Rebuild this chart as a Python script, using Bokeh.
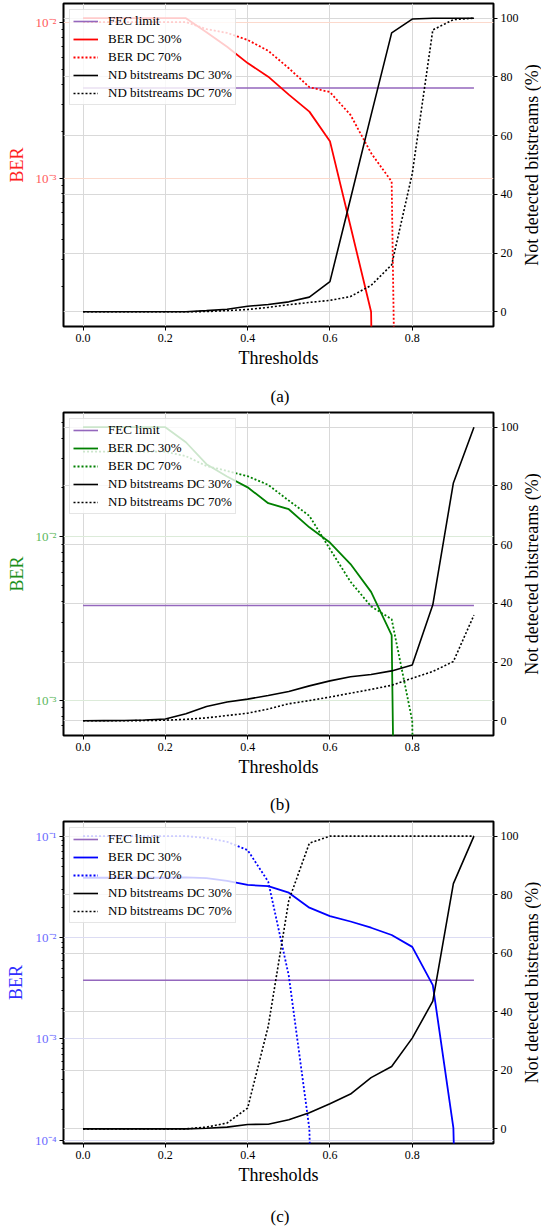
import math
from bokeh.plotting import figure
from bokeh.models import (Range1d, LinearScale, LinearAxis, FixedTicker, Grid,
                          CustomJSTickFormatter, NumeralTickFormatter, Label)
from bokeh.layouts import column, row
from bokeh.embed import file_html
from bokeh.resources import INLINE

# ---------------- data ----------------
thresholds = [0.00, 0.05, 0.10, 0.15, 0.20, 0.25, 0.30, 0.35, 0.40, 0.45,
              0.50, 0.55, 0.60, 0.65, 0.70, 0.75, 0.80, 0.85, 0.90, 0.95]
fec_limit = 3.8e-3
x_ticks = [0.0, 0.2, 0.4, 0.6, 0.8]
pct_ticks = [0, 20, 40, 60, 80, 100]
legend_labels = ["FEC limit", "BER DC 30%", "BER DC 70%",
                 "ND bitstreams DC 30%", "ND bitstreams DC 70%"]
captions = ["(a)", "(b)", "(c)"]
x_label = "Thresholds"
left_label = "BER"
right_label = "Not detected bitstreams (%)"

# panel (a)
ber30_a = [1.07e-2, 1.07e-2, 1.07e-2, 1.07e-2, 1.07e-2, 1.07e-2, 8.7e-3, 7.0e-3, 5.5e-3, 4.5e-3,
           3.45e-3, 2.68e-3, 1.73e-3, 4.9e-4, 1.38e-4, 0.0, 0.0, 0.0, 0.0, 0.0]
ber70_a = [1.01e-2, 1.01e-2, 1.01e-2, 1.01e-2, 1.01e-2, 1.01e-2, 9.1e-3, 8.6e-3, 7.75e-3, 6.6e-3,
           5.1e-3, 3.85e-3, 3.58e-3, 2.55e-3, 1.45e-3, 9.5e-4, 0.0, 0.0, 0.0, 0.0]
nd30_a = [0, 0, 0, 0, 0, 0, 0.4, 0.9, 1.9, 2.5,
          3.4, 5.0, 10.3, 38.5, 67.0, 95.0, 99.7, 100, 100, 100]
nd70_a = [0, 0, 0, 0, 0, 0, 0.1, 0.4, 0.8, 1.5,
          2.4, 3.2, 3.9, 5.2, 9.0, 16.0, 47.0, 96.0, 99.5, 100]

# panel (b)
ber30_b = [0.0466, 0.0466, 0.0466, 0.0466, 0.0466, 0.0377, 0.0277, 0.0233, 0.0200, 0.0160,
           0.0147, 0.0114, 9.2e-3, 6.8e-3, 4.6e-3, 2.5e-3, 0.0, 0.0, 0.0, 0.0]
ber70_b = [0.033, 0.033, 0.033, 0.033, 0.033, 0.031, 0.027, 0.0252, 0.0234, 0.0207,
           0.0166, 0.0134, 8.4e-3, 5.3e-3, 3.75e-3, 3.13e-3, 7.5e-4, 0.0, 0.0, 0.0]
nd30_b = [0, 0.05, 0.1, 0.3, 0.6, 2.4, 4.9, 6.4, 7.4, 8.6,
          10.0, 11.9, 13.6, 15.0, 15.8, 17.0, 19.0, 39.5, 81.0, 100]
nd70_b = [0, 0, 0, 0.1, 0.2, 0.5, 1.0, 1.8, 2.6, 4.0,
          5.8, 6.9, 8.1, 9.4, 10.7, 12.1, 14.5, 16.8, 20.2, 36.0]

# panel (c)
ber30_c = [0.0389, 0.0389, 0.0389, 0.0389, 0.0389, 0.0392, 0.0385, 0.0362, 0.0330, 0.0322,
           0.0277, 0.0197, 0.0163, 0.0144, 0.0125, 0.0106, 8.1e-3, 3.4e-3, 1.33e-4, 0.0]
ber70_c = [0.1, 0.1, 0.1, 0.1, 0.1, 0.1, 0.096, 0.088, 0.0728, 0.0356,
           4.2e-3, 1.3e-4, 0.0, 0.0, 0.0, 0.0, 0.0, 0.0, 0.0, 0.0]
nd30_c = [0, 0, 0, 0, 0, 0, 0.2, 0.6, 1.5, 1.6,
          3.1, 5.5, 8.6, 11.9, 17.5, 21.3, 31.0, 43.6, 83.8, 100]
nd70_c = [0, 0, 0, 0, 0, 0, 0.6, 2.0, 7.1, 35.0,
          78.0, 97.6, 100, 100, 100, 100, 100, 100, 100, 100]

FONT = "Liberation Serif"
CLIP = 1e-12  # non-positive values clipped like a log axis does

# layout constants (pixels)
W_TOTAL = 541
W_LABEL = 20
W_MAIN = W_TOTAL - W_LABEL
B_LEFT, B_RIGHT, B_TOP, B_BOTTOM = 63, 25, 3, 46


def clip(vals):
    return [v if v > 0 else CLIP for v in vals]


def blank_fig(width, height, xr, yr, top=0, bottom=0):
    f = figure(width=width, height=height, x_range=xr, y_range=yr,
               x_axis_location=None, y_axis_location=None,
               output_backend="svg", toolbar_location=None,
               min_border_left=0, min_border_right=0,
               min_border_top=top, min_border_bottom=bottom,
               background_fill_color="white", border_fill_color="white",
               outline_line_color=None)
    f.grid.visible = False
    return f


def make_panel(ber30, ber70, nd30, nd70, color, tick_color, label_color,
               grid_color, caption, frame_h, cap_h, cap_y):
    xs = thresholds
    xspan = max(xs) - min(xs)
    x0, x1 = min(xs) - 0.05 * xspan, max(xs) + 0.05 * xspan
    pos = [v for v in ber30 + ber70 + [fec_limit] if v > 0]
    lo, hi = math.log10(min(pos)), math.log10(max(pos))
    span = hi - lo
    y0, y1 = 10 ** (lo - 0.05 * span), 10 ** (hi + 0.05 * span)
    pmin, pmax = min(nd30 + nd70), max(nd30 + nd70)
    pspan = pmax - pmin

    main_h = B_TOP + frame_h + B_BOTTOM
    p = figure(width=W_MAIN, height=main_h, x_range=Range1d(x0, x1),
               y_range=Range1d(y0, y1), y_axis_type="log",
               output_backend="svg", toolbar_location=None,
               min_border_left=B_LEFT, min_border_right=B_RIGHT,
               min_border_top=B_TOP, min_border_bottom=B_BOTTOM,
               background_fill_color="white", border_fill_color="white")
    p.extra_y_ranges = {"pct": Range1d(pmin - 0.05 * pspan, pmax + 0.05 * pspan)}
    p.extra_y_scales = {"pct": LinearScale()}
    p.outline_line_color = "black"
    p.outline_line_width = 2
    p.outline_line_alpha = 1.0

    xa = p.xaxis[0]
    xa.ticker = FixedTicker(ticks=x_ticks)
    xa.formatter = NumeralTickFormatter(format="0.0")
    xa.axis_label = x_label
    majors = [10.0 ** e for e in range(-6, 1)]
    minors = [k * 10.0 ** e for e in range(-6, 0) for k in range(2, 10)]
    ya = p.yaxis[0]
    ya.ticker = FixedTicker(ticks=majors, minor_ticks=minors)
    ya.formatter = CustomJSTickFormatter(code="""
        const e = Math.round(Math.log10(tick));
        const m = {"-": "\\u207b", "0": "\\u2070", "1": "\\u00b9", "2": "\\u00b2",
                   "3": "\\u00b3", "4": "\\u2074", "5": "\\u2075", "6": "\\u2076"};
        return "10" + String(e).split("").map(c => m[c]).join("");
    """)
    ya.axis_label = left_label
    ra = LinearAxis(y_range_name="pct", ticker=FixedTicker(ticks=pct_ticks))
    p.add_layout(ra, "right")

    for ax in (xa, ya, ra):
        ax.axis_line_color = None
        ax.major_tick_line_color = "black"
        ax.major_tick_out = 4
        ax.major_tick_in = 0
        ax.minor_tick_line_color = None
        ax.major_label_text_font = FONT
        ax.major_label_text_font_size = "12px"
        ax.major_label_text_color = "black"
        ax.axis_label_text_font = FONT
        ax.axis_label_text_font_style = "normal"
        ax.axis_label_text_color = "black"
        ax.major_label_standoff = 3
    xa.axis_label_standoff = 3
    xa.axis_label_text_font_size = "18px"
    ya.axis_label_text_font_size = "18px"
    ya.axis_label_standoff = 6
    ya.major_label_text_font_size = "13px"
    ya.minor_tick_line_color = "black"
    ya.minor_tick_out = 2
    ya.minor_tick_in = 0
    ya.major_label_text_color = tick_color
    ya.axis_label_text_color = label_color

    p.xgrid.ticker = FixedTicker(ticks=x_ticks)
    p.xgrid.grid_line_color = "#d9d9d9"
    p.xgrid.grid_line_width = 1
    p.ygrid.ticker = FixedTicker(ticks=majors)
    p.ygrid.grid_line_color = grid_color
    p.ygrid.grid_line_width = 1
    g = Grid(dimension=1, ticker=FixedTicker(ticks=pct_ticks), y_range_name="pct",
             grid_line_color="#d9d9d9", grid_line_width=1)
    p.add_layout(g)

    fec_line = [fec_limit for _ in thresholds]
    p.line(thresholds, fec_line, color="#9467bd", line_width=1.6,
           legend_label=legend_labels[0])
    p.line(thresholds, clip(ber30), color=color, line_width=1.8,
           legend_label=legend_labels[1])
    p.line(thresholds, clip(ber70), color=color, line_width=1.8, line_dash="2 2",
           legend_label=legend_labels[2])
    p.line(thresholds, nd30, color="black", line_width=1.6, y_range_name="pct",
           legend_label=legend_labels[3])
    p.line(thresholds, nd70, color="black", line_width=1.6, line_dash="2 2",
           y_range_name="pct", legend_label=legend_labels[4])

    lg = p.legend[0]
    lg.location = "top_left"
    lg.margin = 6
    lg.padding = 3
    lg.spacing = 2
    lg.label_height = 16
    lg.glyph_height = 16
    lg.glyph_width = 25
    lg.label_standoff = 10
    lg.label_text_font = FONT
    lg.label_text_font_size = "13px"
    lg.label_text_color = "black"
    lg.background_fill_alpha = 0.8
    lg.border_line_color = "#cccccc"
    lg.border_line_width = 1

    # right-hand axis title (reads bottom to top), in a narrow strip
    lf = blank_fig(W_LABEL, main_h, Range1d(0, 1), Range1d(0, 1),
                   top=B_TOP, bottom=B_BOTTOM)
    lf.add_layout(Label(x=0.5, y=0.5, text=right_label, angle=math.pi / 2,
                        text_align="center", text_baseline="middle",
                        text_font=FONT, text_font_size="18px", text_color="black"))

    # caption strip
    cf = blank_fig(W_TOTAL, cap_h, Range1d(0, W_TOTAL), Range1d(0, cap_h))
    cf.add_layout(Label(x=B_LEFT + (W_MAIN - B_LEFT - B_RIGHT) / 2, y=cap_y,
                        text=caption, text_align="center", text_baseline="middle",
                        text_font=FONT, text_font_size="17px", text_color="black"))
    return column(row(p, lf, spacing=0), cf, spacing=0)


pa = make_panel(ber30_a, ber70_a, nd30_a, nd70_a, "red", "#ff5a5a", "#ff2020",
                "#fcd9cc", captions[0], 323, 37, 13)
pb = make_panel(ber30_b, ber70_b, nd30_b, nd70_b, "green", "#5cb85c", "#1a8f1a",
                "#dcebd9", captions[1], 323, 37, 14)
pc = make_panel(ber30_c, ber70_c, nd30_c, nd70_c, "blue", "#6a6aff", "#3030ff",
                "#dcdcf3", captions[2], 322, 37, 10)

layout = column(pa, pb, pc, spacing=0)
open("out.html", "w").write(file_html(layout, INLINE))
